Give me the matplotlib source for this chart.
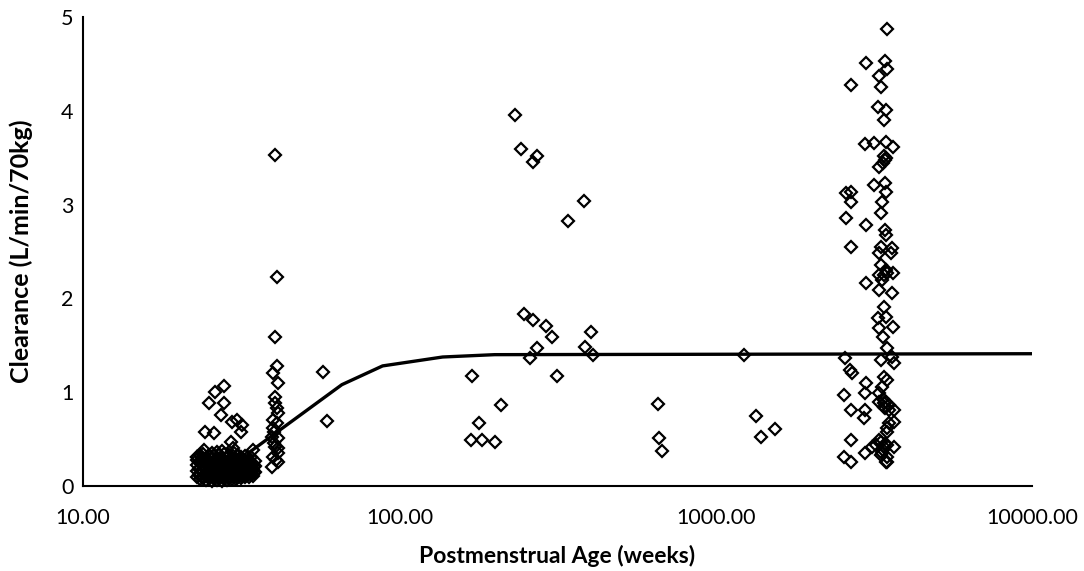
import matplotlib
matplotlib.use("Agg")
import matplotlib.pyplot as plt
from matplotlib.ticker import FixedLocator, FuncFormatter, NullLocator

plt.rcParams['font.family'] = ['Lato', 'DejaVu Sans']

# preterm neonates (dense cluster, 23-35 weeks)
preterm_pma = [23.0, 23.0, 23.0, 23.0, 23.0,
               23.5, 23.5, 23.5, 23.5, 23.5,
               24.0, 24.0, 24.0, 24.0, 24.0,
               24.5, 24.5, 24.5, 24.5, 24.5,
               25.0, 25.0, 25.0, 25.0, 25.0,
               25.5, 25.5, 25.5, 25.5, 25.5, 25.5,
               26.0, 26.0, 26.0, 26.0, 26.0,
               26.5, 26.5, 26.5, 26.5, 26.5, 26.5,
               27.0, 27.0, 27.0, 27.0, 27.0,
               27.5, 27.5, 27.5, 27.5, 27.5, 27.5,
               28.0, 28.0, 28.0, 28.0, 28.0,
               28.5, 28.5, 28.5, 28.5, 28.5,
               29.0, 29.0, 29.0, 29.0, 29.0,
               29.5, 29.5, 29.5, 29.5, 29.5,
               30.0, 30.0, 30.0, 30.0, 30.0,
               30.5, 30.5, 30.5, 30.5, 30.5,
               31.0, 31.0, 31.0, 31.0, 31.0,
               31.5, 31.5, 31.5, 31.5, 31.5,
               32.0, 32.0, 32.0, 32.0,
               32.5, 32.5, 32.5, 32.5, 32.5,
               33.0, 33.0, 33.0, 33.0,
               33.5, 33.5, 33.5, 33.5,
               34.0, 34.0, 34.0, 34.0,
               34.5, 34.5, 34.5,
               35.0, 35.0, 35.0,
               24.3, 24.1, 25.0, 26.0, 26.1, 27.8, 27.8, 27.3, 29.3, 29.5,
               29.8, 30.6, 31.5, 31.9, 34.4, 22.9, 23.9]
preterm_cl = [0.10, 0.16, 0.22, 0.28, 0.31,
              0.07, 0.13, 0.19, 0.25, 0.33,
              0.09, 0.15, 0.21, 0.27, 0.34,
              0.06, 0.12, 0.18, 0.24, 0.30,
              0.08, 0.14, 0.20, 0.26, 0.33,
              0.05, 0.11, 0.17, 0.23, 0.29, 0.35,
              0.09, 0.15, 0.21, 0.27, 0.32,
              0.06, 0.12, 0.18, 0.24, 0.30, 0.36,
              0.08, 0.14, 0.20, 0.26, 0.33,
              0.05, 0.11, 0.17, 0.23, 0.29, 0.37,
              0.09, 0.15, 0.21, 0.27, 0.34,
              0.06, 0.12, 0.18, 0.24, 0.31,
              0.08, 0.14, 0.20, 0.26, 0.33,
              0.07, 0.13, 0.19, 0.25, 0.30,
              0.09, 0.15, 0.21, 0.27, 0.35,
              0.07, 0.12, 0.18, 0.24, 0.29,
              0.10, 0.16, 0.22, 0.28, 0.33,
              0.08, 0.13, 0.19, 0.25, 0.31,
              0.11, 0.17, 0.23, 0.29,
              0.09, 0.14, 0.20, 0.26, 0.32,
              0.12, 0.18, 0.24, 0.30,
              0.10, 0.16, 0.22, 0.28,
              0.13, 0.19, 0.25, 0.31,
              0.11, 0.17, 0.23,
              0.15, 0.21, 0.27,
              0.57, 0.38, 0.88, 0.56, 1.00, 1.07, 0.88, 0.76, 0.47, 0.68,
              0.40, 0.70, 0.58, 0.65, 0.38, 0.31, 0.08]

# more preterm neonates, in between the ones above
preterm2_pma = [23.25, 23.25, 23.25,
                23.75, 23.75, 23.75, 23.75,
                24.25, 24.25, 24.25,
                24.75, 24.75, 24.75, 24.75,
                25.25, 25.25, 25.25, 25.25,
                25.75, 25.75, 25.75, 25.75,
                26.25, 26.25, 26.25, 26.25,
                26.75, 26.75, 26.75, 26.75,
                27.25, 27.25, 27.25, 27.25,
                27.75, 27.75, 27.75, 27.75,
                28.25, 28.25, 28.25, 28.25,
                28.75, 28.75, 28.75, 28.75,
                29.25, 29.25, 29.25, 29.25,
                29.75, 29.75, 29.75, 29.75,
                30.25, 30.25, 30.25,
                30.75, 30.75, 30.75, 30.75,
                31.25, 31.25, 31.25,
                31.75, 31.75, 31.75, 31.75,
                32.25, 32.25, 32.25,
                32.75, 32.75, 32.75,
                33.25, 33.25, 33.25,
                33.75, 33.75, 33.75,
                34.25, 34.25,
                34.75, 34.75]
preterm2_cl = [0.12, 0.18, 0.26,
               0.10, 0.17, 0.23, 0.30,
               0.11, 0.19, 0.25,
               0.09, 0.16, 0.22, 0.28,
               0.10, 0.18, 0.24, 0.31,
               0.08, 0.14, 0.20, 0.26,
               0.11, 0.17, 0.23, 0.29,
               0.09, 0.15, 0.21, 0.27,
               0.10, 0.16, 0.22, 0.29,
               0.08, 0.14, 0.19, 0.25,
               0.11, 0.17, 0.23, 0.30,
               0.09, 0.15, 0.21, 0.27,
               0.10, 0.16, 0.22, 0.28,
               0.11, 0.17, 0.23, 0.32,
               0.12, 0.18, 0.24,
               0.10, 0.15, 0.21, 0.27,
               0.13, 0.19, 0.25,
               0.11, 0.16, 0.22, 0.28,
               0.14, 0.20, 0.26,
               0.12, 0.17, 0.23,
               0.15, 0.21, 0.27,
               0.13, 0.19, 0.25,
               0.16, 0.22,
               0.14, 0.20]

# term neonates (~40 weeks)
term_pma = [40.4, 41.0, 40.4, 41.0, 39.8, 41.3, 40.4, 41.0, 41.3, 39.8,
            41.0, 39.8, 41.3, 39.5, 40.4, 41.3, 39.8, 41.3, 39.5, 40.4,
            40.2, 40.6, 41.2, 40.2, 57.3, 59.0]
term_cl = [3.53, 2.23, 1.59, 1.28, 1.20, 1.10, 0.95, 0.83, 0.78, 0.70,
           0.67, 0.62, 0.51, 0.52, 0.42, 0.35, 0.31, 0.25, 0.20, 0.88,
           0.46, 0.28, 0.40, 0.57, 1.22, 0.69]

# infants and children
child_pma = [232, 243, 273, 264, 382, 340, 247, 264, 290, 303,
             273, 258, 402, 387, 408, 170, 314, 209, 178, 169,
             182, 201, 659, 664, 678, 1230, 1343, 1393, 1542]
child_cl = [3.96, 3.59, 3.52, 3.45, 3.04, 2.83, 1.83, 1.77, 1.71, 1.59,
            1.47, 1.36, 1.64, 1.48, 1.40, 1.17, 1.17, 0.86, 0.67, 0.49,
            0.49, 0.47, 0.87, 0.51, 0.37, 1.40, 0.75, 0.52, 0.61]

# adults
adult_pma = [3484, 2989, 3433, 3484, 3286, 2681, 3334, 3262, 3459, 3408,
             2968, 3167, 3459, 3638, 3459, 3384, 3286, 3167, 3433, 3459,
             2584, 2681, 2681, 3359, 2584, 2989, 3334, 3433, 3459, 2681,
             3334, 3612, 3286, 3585, 3334, 3286, 3484, 3359, 2989, 3638,
             3286, 3612, 3408, 3262, 3459, 3286, 3638, 3384, 3484,
             2566, 2660, 2700, 2989, 2547, 2968, 2681, 2968, 2947, 2681,
             2968, 2547, 2681,
             3334, 3664, 3408, 3484, 3359, 3459, 3286, 3664, 3535, 3664,
             3484, 3286, 3214, 3484, 3664, 3359, 3484, 3408, 3535, 3121,
             3408, 3334, 3484, 3459, 3286, 3535, 3484, 3334, 3612,
             3384, 3433, 3408, 3433, 3384, 3459, 3408, 3434, 3408]
adult_cl = [4.87, 4.51, 4.53, 4.45, 4.37, 4.28, 4.26, 4.04, 4.01, 3.90,
            3.65, 3.66, 3.67, 3.61, 3.50, 3.44, 3.40, 3.21, 3.23, 3.13,
            3.12, 3.13, 3.03, 3.03, 2.86, 2.78, 2.91, 2.73, 2.68, 2.55,
            2.55, 2.54, 2.48, 2.48, 2.36, 2.25, 2.27, 2.20, 2.16, 2.27,
            2.09, 2.06, 1.91, 1.79, 1.80, 1.68, 1.70, 1.59, 1.47,
            1.36, 1.24, 1.20, 1.10, 0.97, 0.99, 0.81, 0.81, 0.72, 0.49,
            0.35, 0.31, 0.26,
            1.34, 1.31, 1.16, 1.13, 1.06, 0.90, 0.90, 0.81, 0.86, 0.68,
            0.62, 0.49, 0.44, 0.44, 0.42, 0.35, 0.26, 0.84, 0.81, 0.42,
            0.41, 0.33, 0.31, 0.26, 0.99, 0.67, 0.58, 0.47, 1.37,
            0.38, 0.45, 0.88, 0.83, 0.93, 2.30, 2.25, 3.48, 3.52]

# model prediction
model_pma = [33.6, 65.8, 88.5, 137, 200, 10000]
model_cl = [0.36, 1.08, 1.28, 1.375, 1.40, 1.41]

fig = plt.figure(figsize=(10.84, 5.71), dpi=100)
ax = fig.add_axes([0.0766, 0.149, 0.8755, 0.821])

obs_pma = preterm_pma + preterm2_pma + term_pma + child_pma + adult_pma
obs_cl = preterm_cl + preterm2_cl + term_cl + child_cl + adult_cl
ax.plot(obs_pma, obs_cl, linestyle='none', marker='D', markersize=6.4,
        markerfacecolor='none', markeredgecolor='black', markeredgewidth=1.6,
        zorder=2, clip_on=False)
ax.plot(model_pma, model_cl, color='black', linewidth=2.4, zorder=3)

ax.set_xscale('log')
ax.set_xlim(10, 10000)
ax.set_ylim(0, 5)
ax.xaxis.set_major_locator(FixedLocator([10, 100, 1000, 10000]))
ax.xaxis.set_major_formatter(FuncFormatter(lambda v, p: f"{v:.2f}"))
ax.xaxis.set_minor_locator(NullLocator())
ax.set_yticks([0, 1, 2, 3, 4, 5])

ax.tick_params(axis='x', length=0, pad=16, labelsize=15.5)
ax.tick_params(axis='y', length=0, pad=7, labelsize=15.5)

for side in ['top', 'right']:
    ax.spines[side].set_visible(False)
for side in ['left', 'bottom']:
    ax.spines[side].set_linewidth(1.5)
    ax.spines[side].set_color('black')

ax.set_xlabel('Postmenstrual Age (weeks)', fontsize=16.5, fontweight='bold', labelpad=12)
ax.set_ylabel('Clearance (L/min/70kg)', fontsize=18, fontweight='bold', labelpad=20)

fig.savefig('out.png', dpi=100)
